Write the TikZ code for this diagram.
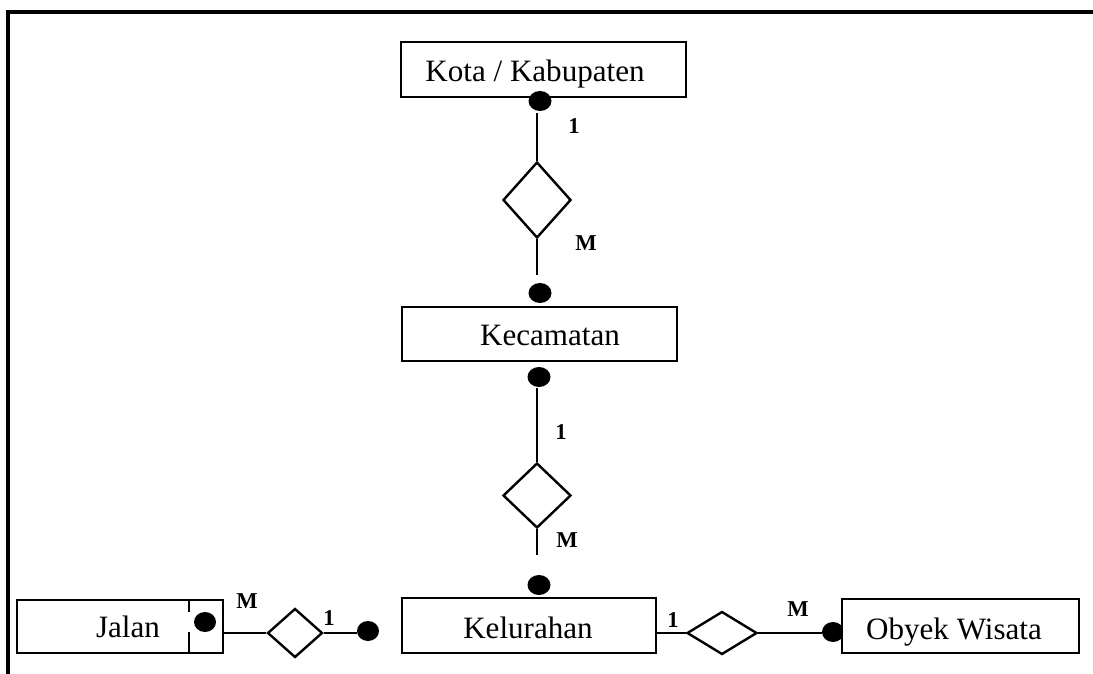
\documentclass[tikz,border=0pt]{standalone}
\usepackage{fontspec}
\setmainfont{Liberation Serif}
\usetikzlibrary{shapes.geometric}
\begin{document}
\begin{tikzpicture}[x=0.75pt,y=-0.75pt,
  entity/.style={draw, line width=2pt, fill=white, inner sep=0pt, rectangle},
  etext/.style={anchor=base, font=\fontsize{23.3}{28}\selectfont, inner sep=0pt},
  rel/.style={draw, diamond, line width=1.8pt, inner sep=0pt, fill=white},
  dot/.style={ellipse, fill=black, inner sep=0pt, minimum width=17.25pt, minimum height=15pt},
  card/.style={font=\bfseries\fontsize{17}{20}\selectfont, inner sep=0pt},
  conn/.style={line width=1.8pt},
  frame/.style={line width=2.4pt}]
\useasboundingbox (0,0) rectangle (1093,674);
\draw[frame] (8,674) -- (8,12) -- (1093,12);

% entities
\node[entity, minimum width=213.75pt, minimum height=41.25pt] (kota) at (543.5,69.5) {};
\node[etext] (kotat) at (535,82) {Kota / Kabupaten};
\node[entity, minimum width=206.25pt, minimum height=40.5pt] (kec) at (539.5,334) {};
\node[etext] (kect) at (550,345) {Kecamatan};
\node[entity, minimum width=190.5pt, minimum height=41.25pt] (kel) at (529,625.5) {};
\node[etext] (kelt) at (528,638) {Kelurahan};
\node[entity, minimum width=154.5pt, minimum height=39.75pt] (jalan) at (120,626.5) {};
\node[etext] (jalant) at (128,637) {Jalan};
\draw[line width=2pt] (189,600) -- (189,612) (189,632) -- (189,653);

% dots
\node[dot] (c1) at (540,101) {};
\node[dot] (c2) at (540,293) {};
\node[dot] (c3) at (539,377) {};
\node[dot] (c4) at (539,585) {};
\node[dot, minimum width=16.5pt] (cj) at (205,622) {};
\node[dot, minimum width=16.5pt] (c5) at (368,631) {};
\node[dot, minimum width=16.5pt] (c6) at (833,632) {};

\node[entity, minimum width=177.75pt, minimum height=40.5pt] (obyek) at (960.5,626) {};
\node[etext] (obyekt) at (954,639) {Obyek Wisata};

% relationships
\node[rel, minimum width=51pt, minimum height=57pt] (d1) at (537,200) {};
\node[rel, minimum width=51pt, minimum height=48.75pt] (d2) at (537,495.5) {};
\node[rel, minimum width=41.25pt, minimum height=36.75pt] (d3) at (295,633) {};
\node[rel, minimum width=52.5pt, minimum height=32.25pt] (d4) at (722,633) {};

% connector ends
\coordinate (a1) at (537,113);
\coordinate (a2) at (537,275);
\coordinate (a3) at (537,388);
\coordinate (a4) at (537,555);
\coordinate (jr) at (223,633);
\coordinate (kr) at (656,633);

\draw[conn] (a1) -- (d1.north);
\draw[conn] (d1.south) -- (a2);
\draw[conn] (a3) -- (d2.north);
\draw[conn] (d2.south) -- (a4);
\draw[conn] (jr) -- (d3.west);
\draw[conn] (d3.east) -- (d3.east -| c5.west);
\draw[conn] (kr) -- (d4.west);
\draw[conn] (d4.east) -- (d4.east -| c6.west);

% cardinalities
\node[card] (l1) at (574,126) {1};
\node[card] (m1) at (586,243) {M};
\node[card] (l2) at (561,432) {1};
\node[card] (m2) at (567,540) {M};
\node[card] (m3) at (247,601) {M};
\node[card] (l3) at (329,618) {1};
\node[card] (l4) at (673,620) {1};
\node[card] (m4) at (798,609) {M};
\end{tikzpicture}
\end{document}
